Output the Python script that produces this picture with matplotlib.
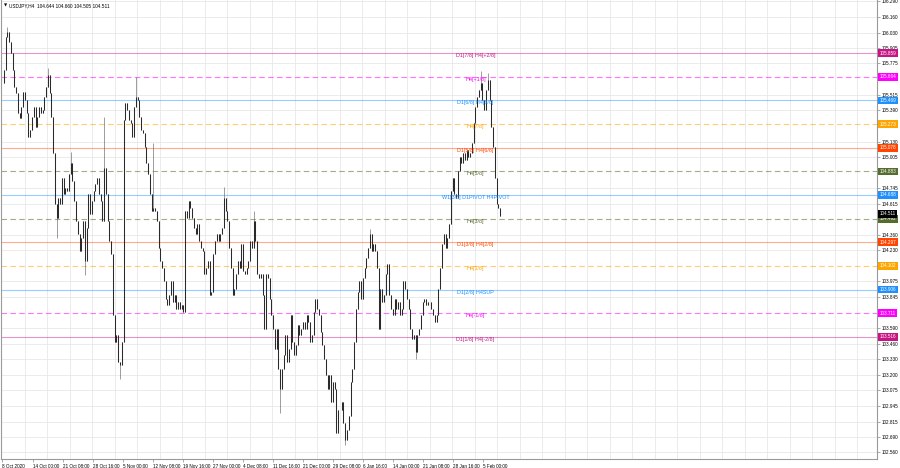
import matplotlib
matplotlib.use("Agg")
import matplotlib.pyplot as plt
import matplotlib.transforms as mtransforms
import numpy as np

plt.rcParams['font.family'] = ['Liberation Sans', 'DejaVu Sans']

chart_title = "USDJPY,H4  104.644 104.660 104.505 104.511"

# closes, roughly one value per two H4 bars
close = [
    105.615, 105.724, 105.990, 106.032, 105.949, 105.865, 105.724, 105.582, 105.532, 105.365,
    105.324, 105.415, 105.540, 105.474, 105.365, 105.165, 105.224, 105.332, 105.415, 105.249,
    105.332, 105.415, 105.365, 105.390, 105.499, 105.582, 105.682, 105.532, 105.332, 105.032,
    104.615, 104.499, 104.665, 104.615, 104.832, 104.699, 104.749, 104.724, 104.865, 104.949,
    104.807, 104.640, 104.474, 104.365, 104.224, 104.332, 104.474, 104.140, 104.415, 104.699,
    104.532, 104.640, 104.724, 104.782, 104.832, 104.699, 104.640, 104.474, 104.915, 104.699,
    104.474, 104.307, 104.199, 103.699, 103.474, 103.532, 103.307, 103.282, 103.474, 105.307,
    105.449, 105.390, 105.307, 105.282, 105.165, 105.415, 105.499, 105.474, 105.332, 105.224,
    105.199, 105.082, 104.949, 104.865, 104.699, 104.557, 104.582, 104.557, 104.474, 104.249,
    104.140, 104.082, 103.974, 103.832, 103.782, 103.865, 103.974, 103.807, 103.865, 103.749,
    103.807, 103.749, 103.782, 103.724, 104.557, 104.499, 104.640, 104.582, 104.499, 104.415,
    104.365, 104.449, 104.307, 104.249, 104.224, 104.032, 104.082, 104.140, 103.865, 103.890,
    104.199, 104.307, 104.365, 104.307, 104.365, 104.415, 104.665, 104.557, 104.474, 104.249,
    104.082, 103.865, 103.915, 104.032, 104.140, 104.082, 104.282, 104.057, 104.032, 104.082,
    104.140,
    104.307, 104.249, 104.474, 104.307, 104.032, 103.999, 104.032, 103.865, 103.582, 104.032,
    103.999, 103.832, 103.699, 103.582, 103.415, 103.582, 103.249, 103.082, 103.249, 103.365,
    103.532, 103.307, 103.415, 103.699, 103.474, 103.365, 103.449, 103.615, 103.532, 103.582,
    103.640, 103.582, 103.699, 103.640, 103.474, 103.532, 103.724, 103.832, 103.749, 103.699,
    103.557, 103.449, 103.332, 103.199, 103.082, 103.199, 102.974, 103.140, 103.082, 102.724,
    102.915, 102.915, 102.974, 102.807, 102.665, 102.749, 102.865, 103.140, 103.249, 103.474,
    103.749, 103.890, 103.974, 103.832, 103.999, 104.082, 104.165, 104.249, 104.365, 104.224,
    104.282, 104.224, 104.082, 103.582, 103.915, 103.807, 103.865, 104.032, 104.115, 103.865,
    103.749, 103.699, 103.832, 103.749, 103.807, 103.699, 103.749, 103.974, 103.915, 103.832,
    103.749, 103.582, 103.499, 103.532, 103.390, 103.532, 103.582, 103.699, 103.807, 103.832,
    103.782, 103.807, 103.807, 103.749, 103.699, 103.640, 103.699, 103.915, 104.082, 104.282,
    104.365,
    104.249, 104.332, 104.449, 104.724, 104.832, 104.699, 104.665, 104.890, 104.999, 104.949,
    105.032, 104.974, 105.057, 104.999, 105.032, 105.115, 105.282, 105.415, 105.499, 105.557,
    105.615, 105.474, 105.390, 105.557, 105.640, 105.474, 105.249, 105.082, 104.832, 104.615,
    104.582, 104.511,
]

# wicks that stick out well past the bodies
spike_high = {3: 106.074, 26: 105.740, 39: 105.040, 58: 105.330, 76: 105.665,
              86: 105.115, 126: 104.757, 143: 104.557, 209: 104.410, 272: 105.715,
              276: 105.700}
spike_low = {31: 104.330, 47: 104.030, 67: 103.165, 158: 102.890, 195: 102.620,
             235: 103.330}

bars_per_point = 1.877

level_prices = [105.859, 105.664, 105.469, 105.273, 105.078, 104.883, 104.688,
                104.492, 104.297, 104.102, 103.906, 103.711, 103.516]
level_names = ["D1[7/8] H4[+2/8]", "H4[+1/8]", "D1[6/8] H4[8/8]", "H4[7/8]",
               "D1[5/8] H4[6/8]", "H4[5/8]", "W1[3/8] D1PIVOT H4PIVOT", "H4[3/8]",
               "D1[3/8] H4[2/8]", "H4[1/8]", "D1[2/8] H4SUP", "H4[-1/8]", "D1[1/8] H4[-2/8]"]
level_colors = ["#C71585", "#FF00FF", "#1E90FF", "#FFA500", "#FF4500", "#556B2F",
                "#1E90FF", "#556B2F", "#FF4500", "#FFA500", "#1E90FF", "#FF00FF", "#C71585"]
level_dashed = [False, True, False, True, False, True, False, True, False, True,
                False, True, False]
bid_price = 104.511

# ticks that the coloured price boxes hide in the original are left out
price_ticks = [106.290, 106.160, 106.030, 105.905, 105.775, 105.515, 105.390,
               105.130, 105.005, 104.745, 104.615, 104.360,
               104.230, 103.975, 103.845, 103.590, 103.460, 103.330,
               103.200, 103.075, 102.945, 102.815, 102.690, 102.560]
time_labels = ["8 Oct 2020", "14 Oct 00:00", "21 Oct 08:00", "28 Oct 16:00", "5 Nov 00:00",
               "12 Nov 08:00", "19 Nov 16:00", "27 Nov 00:00", "4 Dec 08:00", "11 Dec 16:00",
               "21 Dec 00:00", "29 Dec 08:00", "6 Jan 16:00", "14 Jan 00:00", "21 Jan 08:00",
               "28 Jan 16:00", "5 Feb 00:00"]

fig = plt.figure(figsize=(9, 4.68), dpi=100)
ax = fig.add_axes([0.0012, 1 - 459 / 468, 876 / 900, 459 / 468])

n = len(close)
x = np.arange(n) * bars_per_point
c = np.array(close)
o = np.concatenate([[c[0]], c[:-1]])
hi = np.maximum(o, c)
lo = np.minimum(o, c)
for i, v in spike_high.items():
    hi[i] = v
for i, v in spike_low.items():
    lo[i] = v

ax.vlines(x, lo, hi, color='#666666', lw=0.45, zorder=4)
ax.vlines(x, np.minimum(o, c), np.maximum(o, c), color='#2a2a2a', lw=0.75, zorder=5)

# level lines + captions
tr = mtransforms.blended_transform_factory(ax.transAxes, ax.transData)
for p, name, col, dsh in zip(level_prices, level_names, level_colors, level_dashed):
    if dsh:
        ax.axhline(p, color=col, lw=0.8, alpha=0.55, dashes=(5, 3), zorder=2)
    else:
        ax.axhline(p, color=col, lw=0.8, alpha=0.45, zorder=2)
    ax.text(0.5416, p, name, transform=tr, ha='center', va='top', fontsize=3.9,
            color=col, zorder=6)
    ax.text(1.003, p, "%.3f" % p, transform=tr, ha='left', va='center', fontsize=3.3,
            color='white', clip_on=False, zorder=7,
            bbox=dict(boxstyle='square,pad=0.3', fc=col, ec='none'))
ax.text(1.003, bid_price + 0.02, "%.3f" % bid_price, transform=tr, ha='left', va='center',
        fontsize=3.3, color='white', clip_on=False, zorder=8,
        bbox=dict(boxstyle='square,pad=0.3', fc='black', ec='none'))

ax.set_ylim(102.506, 106.2995)
ax.set_xlim(-1.07, 933.3)

ax.yaxis.tick_right()
ax.set_yticks(price_ticks)
ax.set_yticklabels(["%.3f" % t for t in price_ticks])
ax.tick_params(axis='y', labelsize=3.3, length=2, width=0.5, color='#888888', pad=1.5)

xt = [0] + [33 + 32 * k for k in range(len(time_labels) - 1)]
ax.set_xticks(xt)
ax.set_xticklabels(time_labels)
for lab in ax.get_xticklabels():
    lab.set_ha('left')
ax.tick_params(axis='x', labelsize=3.3, length=2, width=0.5, color='#888888', pad=1.5)

ax.set_xticks(np.arange(0, 934, 24), minor=True)
ax.tick_params(which='minor', length=0)
ax.grid(True, which='minor', axis='x', color='#e8e8e8', lw=0.6, zorder=0)
ax.grid(True, which='major', axis='y', color='#e8e8e8', lw=0.6, zorder=0)
ax.grid(False, which='major', axis='x')
ax.set_axisbelow(True)

for s in ax.spines.values():
    s.set_color('#9a9a9a')
    s.set_linewidth(0.8)
ax.spines['top'].set_visible(False)

ax.text(0.003, 0.992, "\u25bc", transform=ax.transAxes, fontsize=3.0, va='top', ha='left',
        family=['DejaVu Sans'])
ax.text(0.009, 0.992, chart_title, transform=ax.transAxes, fontsize=3.4, va='top', ha='left')

fig.savefig("out.png", dpi=100)
